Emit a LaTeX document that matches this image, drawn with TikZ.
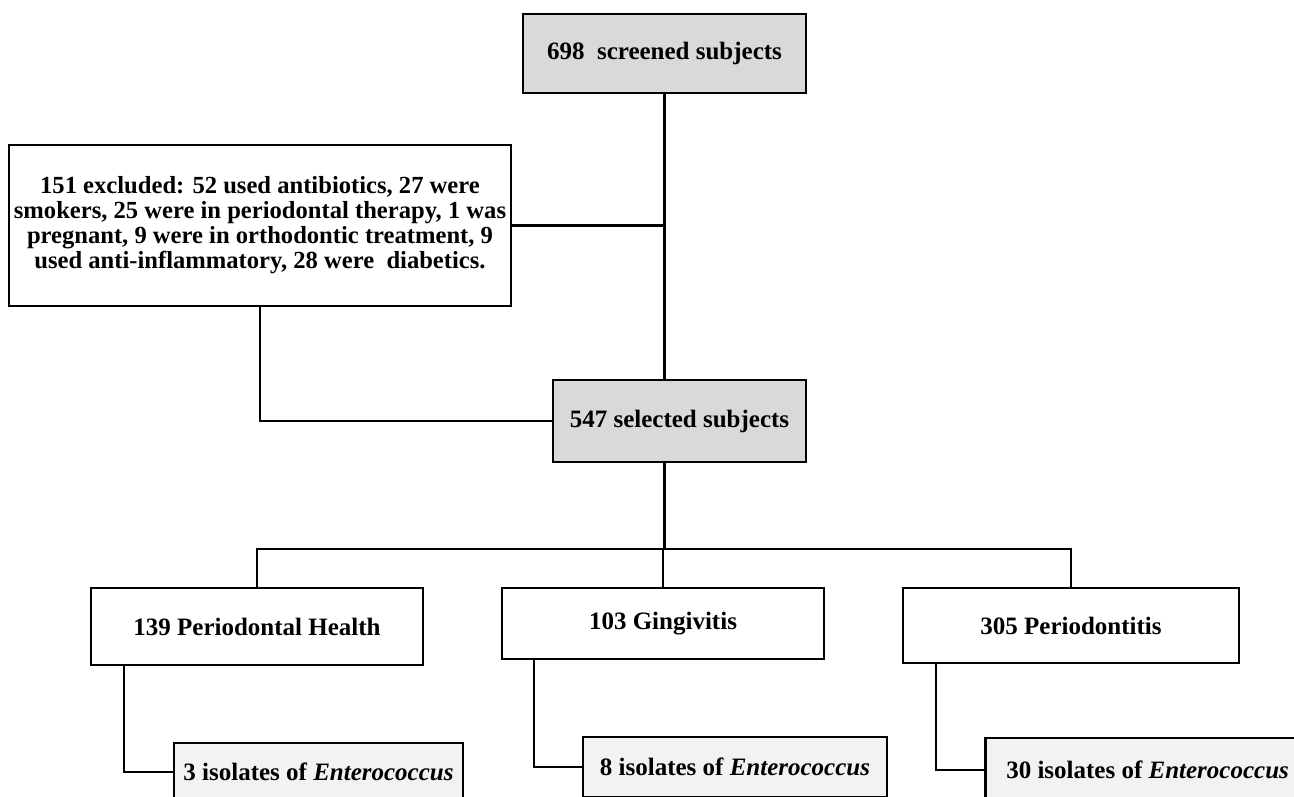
\documentclass[tikz,border=0pt]{standalone}
\usepackage{fontspec}
\setmainfont{Liberation Serif}
\usetikzlibrary{calc}
\definecolor{boxgray}{RGB}{217,217,217}
\definecolor{lightgray2}{RGB}{242,242,242}
\tikzset{
  box/.style={draw=black, line width=2.5pt, inner sep=0pt, align=center,
    font=\bfseries\fontsize{25}{28}\selectfont},
  graybox/.style={box, fill=boxgray},
  whitebox/.style={box, fill=white},
  isobox/.style={box, fill=lightgray2},
  conn/.style={draw=black, line width=2.3pt}
}
\begin{document}
\begin{tikzpicture}[x=1pt,y=-1pt]
\useasboundingbox (0,0) rectangle (1294,796);
\clip (0,0) rectangle (1294,796);
\fill[white] (0,0) rectangle (1294,796);
% nodes
\node[graybox, minimum width=283pt, minimum height=79pt] (top) at (664.5,53.5) {698\ \ screened subjects};
\node[whitebox, minimum width=502pt, minimum height=161pt,
      font=\bfseries\fontsize{24.6}{25}\selectfont] (exc) at (260,225.5)
  {151 excluded: 52 used antibiotics, 27 were\\
   smokers, 25 were in periodontal therapy, 1 was\\
   pregnant, 9 were in orthodontic treatment, 9\\
   used anti-inflammatory, 28 were\ \ diabetics.};
\node[graybox, minimum width=253pt, minimum height=82pt] (sel) at (679.5,421) {547 selected subjects};
\node[whitebox, minimum width=332pt, minimum height=77pt] (ph) at (257,626.5) {139 Periodontal Health};
\node[whitebox, minimum width=322pt, minimum height=71pt] (ging) at (663,623.5) {103 Gingivitis};
\node[whitebox, minimum width=336pt, minimum height=75pt] (per) at (1071,625.5) {305 Periodontitis};
\node[isobox, minimum width=289pt, minimum height=58pt] (iso1) at (318.5,772) {3 isolates of \textit{Enterococcus}};
\node[isobox, minimum width=304pt, minimum height=60pt] (iso2) at (735,767) {8 isolates of \textit{Enterococcus}};
\node[isobox, anchor=west, inner xsep=21pt, minimum height=64pt] (iso3) at (984,770) {30 isolates of \textit{Enterococcus}};
% connectors
\coordinate (j) at (664.5,549);
\draw[conn] (top.south) -- (top.south |- sel.north);
\draw[conn] (exc.east) -- (exc.east -| top.south);
\draw[conn] (exc.south) |- (sel.west);
\draw[conn] (sel.south -| top.south) -- (j);
\draw[conn] (ph.north) |- (j) -| (per.north);
\draw[conn] (j -| ging.north) -- (ging.north);
\draw[conn] ([xshift=34pt]ph.south west) |- (iso1.west);
\draw[conn] ([xshift=33pt]ging.south west) |- (iso2.west);
\draw[conn] ([xshift=34pt]per.south west) |- (iso3.west);
\end{tikzpicture}
\end{document}
